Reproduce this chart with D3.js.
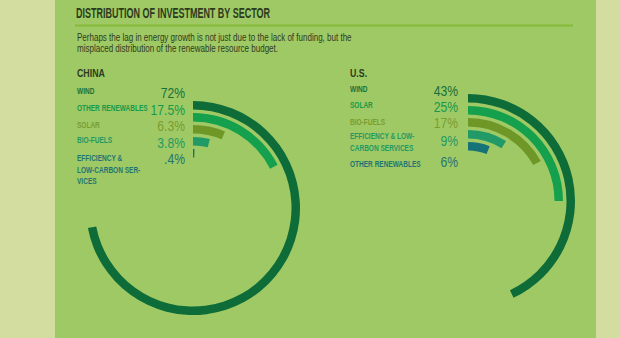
<!DOCTYPE html>
<html>
<head>
<meta charset="utf-8">
<script src="https://cdn.jsdelivr.net/npm/d3@7"></script>
<style>
  html, body { margin: 0; padding: 0; background: #d2dd9f; }
  svg { display: block; }
</style>
</head>
<body>
<script>
// data
var chinaSectors = [["WIND"], ["OTHER RENEWABLES"], ["SOLAR"], ["BIO-FUELS"], ["EFFICIENCY &", "LOW-CARBON SER-", "VICES"]];
var chinaValues = [72, 17.5, 6.3, 3.8, 0.4];
var chinaPct = ["72%", "17.5%", "6.3%", "3.8%", ".4%"];

var usSectors = [["WIND"], ["SOLAR"], ["BIO-FUELS"], ["EFFICIENCY & LOW-", "CARBON SERVICES"], ["OTHER RENEWABLES"]];
var usValues = [43, 25, 17, 9, 6];
var usPct = ["43%", "25%", "17%", "9%", "6%"];

var title = "DISTRIBUTION OF INVESTMENT BY SECTOR";
var subtitle = ["Perhaps the lag in energy growth is not just due to the lack of funding, but the",
                "misplaced distribution of the renewable resource budget."];

// ring colours, outer to inner
var ringColors = ["#0d6c37", "#14a04c", "#6f9728", "#229a68", "#157377"];
var labelColors = ["#17703a", "#16994b", "#7c9b30", "#1f9964", "#1f7473"];

var W = 620, H = 338;
var font = "'Liberation Sans', Arial, sans-serif";

var svg = d3.select("body").append("svg")
  .attr("width", W)
  .attr("height", H);

// squeezed text, the original uses a condensed face
function narrowText(parent, x, y, sx, str) {
  return parent.append("text")
    .attr("transform", "translate(" + x + "," + y + ") scale(" + sx + ",1)")
    .style("font-family", font)
    .text(str);
}

svg.append("rect")
  .attr("x", 55).attr("y", 0)
  .attr("width", 541).attr("height", H)
  .style("fill", "#9fc964");

svg.append("text")
  .attr("x", 76).attr("y", 18)
  .attr("textLength", 194)
  .attr("lengthAdjust", "spacingAndGlyphs")
  .style("font-family", font)
  .style("font-weight", "bold")
  .style("font-size", "14.5px")
  .style("fill", "#2c3a1d")
  .text(title);

svg.append("line")
  .attr("x1", 75).attr("x2", 573)
  .attr("y1", 25.5).attr("y2", 25.5)
  .style("stroke", "#84bb38")
  .style("stroke-width", 2);

subtitle.forEach(function(line, i) {
  narrowText(svg, 77, 41 + i * 11, 0.78, line)
    .style("font-size", "10.3px")
    .style("fill", "#2f3b22");
});

var angle = d3.scaleLinear().domain([0, 100]).range([0, 2 * Math.PI]);

function drawPanel(opts) {
  var g = svg.append("g");

  narrowText(g, opts.labelX, 77, 0.8, opts.name)
    .style("font-weight", "bold")
    .style("font-size", "11px")
    .style("fill", "#2c3a1d");

  var rings = g.append("g")
    .attr("transform", "translate(" + opts.cx + "," + opts.cy + ")");

  rings.selectAll("path")
    .data(opts.values)
    .enter().append("path")
    .attr("d", function(d, i) {
      var outer = 107 - 12 * i;
      return d3.arc()
        .innerRadius(outer - 8.5)
        .outerRadius(outer)
        .startAngle(0)
        .endAngle(angle(d))();
    })
    .style("fill", function(d, i) { return ringColors[i]; });

  opts.sectors.forEach(function(lines, i) {
    lines.forEach(function(line, j) {
      narrowText(g, opts.labelX, opts.labelY[i] + j * 11.5, 0.71, line)
        .style("font-weight", "bold")
        .style("font-size", "9.2px")
        .style("fill", labelColors[i]);
    });
  });

  opts.pct.forEach(function(p, i) {
    narrowText(g, opts.pctX, opts.pctY[i], 0.88, p)
      .attr("text-anchor", "end")
      .style("font-size", "13.8px")
      .style("fill", labelColors[i]);
  });
}

drawPanel({
  name: "CHINA",
  sectors: chinaSectors,
  values: chinaValues,
  pct: chinaPct,
  cx: 193, cy: 208,
  labelX: 77, pctX: 185,
  labelY: [94, 111, 128, 143, 161],
  pctY: [98, 115, 131, 148, 164]
});

drawPanel({
  name: "U.S.",
  sectors: usSectors,
  values: usValues,
  pct: usPct,
  cx: 468, cy: 201,
  labelX: 350, pctX: 458,
  labelY: [92, 108, 125, 139, 167],
  pctY: [96, 112, 128, 146, 167]
});
</script>
</body>
</html>
